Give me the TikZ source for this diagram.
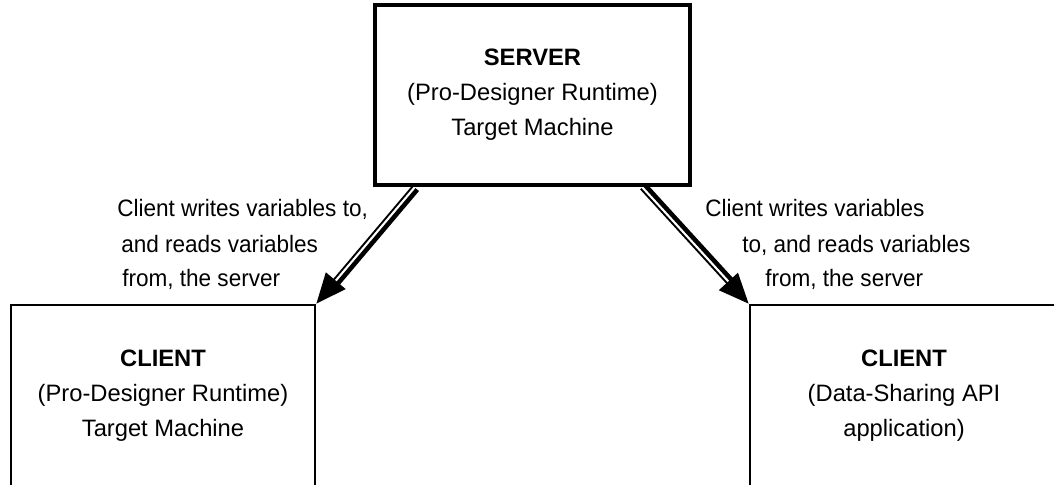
\documentclass[tikz,border=0pt]{standalone}
\usepackage{fontspec}
\setmainfont{Liberation Sans}
\newfontfamily\labelfamily[FakeStretch=0.95]{Liberation Sans}
\usetikzlibrary{calc}
\begin{document}
\begin{tikzpicture}[x=0.75pt,y=-0.75pt,
  boxtext/.style={align=center,font=\fontsize{17.8}{26.25}\selectfont,inner sep=0pt},
  serverbox/.style={draw,line width=3.6pt,minimum width=236.25pt,minimum height=135pt,boxtext},
  clientbox/.style={draw,line width=2.1pt,minimum height=136.5pt,boxtext},
  lbl/.style={anchor=base west,inner sep=0pt,font=\labelfamily\fontsize{17.8}{26.25}\selectfont},
  thickln/.style={line width=3.4pt},
  thinln/.style={line width=1.4pt},
]
\useasboundingbox (0,0) rectangle (1054,485);
\clip (0,0) rectangle (1054,485);

\node[serverbox] (server) at (532.5,95) {\textbf{SERVER}\\(Pro-Designer Runtime)\\Target Machine};
\node[clientbox,minimum width=228pt] (cl) at (163,396) {\textbf{CLIENT}\\(Pro-Designer Runtime)\\Target Machine};
\node[clientbox,minimum width=231pt] (cr) at (904,396) {\textbf{CLIENT}\\(Data-Sharing API\\application)};

% labels
\node[lbl] (la) at (117,216) {Client writes variables to,};
\node[lbl] (lb) at (121,252) {and reads variables};
\node[lbl] (lc) at (122,286) {from, the server};
\node[lbl] (ra) at (705,216) {Client writes variables};
\node[lbl] (rb) at (742,252) {to, and reads variables};
\node[lbl] (rc) at (765,286) {from, the server};

% left arrow
\coordinate (a1) at ([xshift=31.5pt]server.south west);
\coordinate (t1) at (cl.north east);
\coordinate (b1) at ($(t1)!22.5pt!(a1)$);
\coordinate (e1) at ($(t1)!20pt!(a1)$);
\fill (t1) -- ($(b1)!9.75pt!90:(t1)$) -- ($(b1)!9.75pt!-90:(t1)$) -- cycle;
\draw[thickln] ($(a1)!2.6pt!90:(t1)$) -- ($(e1)!2.6pt!-90:(a1)$);
\draw[thinln] ($(a1)!1.6pt!-90:(t1)$) -- ($(e1)!1.6pt!90:(a1)$);

% right arrow
\coordinate (a2) at ([xshift=-37.5pt]server.south east);
\coordinate (t2) at (cr.north west);
\coordinate (b2) at ($(t2)!22.5pt!(a2)$);
\coordinate (e2) at ($(t2)!20pt!(a2)$);
\fill (t2) -- ($(b2)!9.75pt!90:(t2)$) -- ($(b2)!9.75pt!-90:(t2)$) -- cycle;
\draw[thickln] ($(a2)!2.6pt!90:(t2)$) -- ($(e2)!2.6pt!-90:(a2)$);
\draw[thinln] ($(a2)!1.6pt!-90:(t2)$) -- ($(e2)!1.6pt!90:(a2)$);
\end{tikzpicture}
\end{document}
